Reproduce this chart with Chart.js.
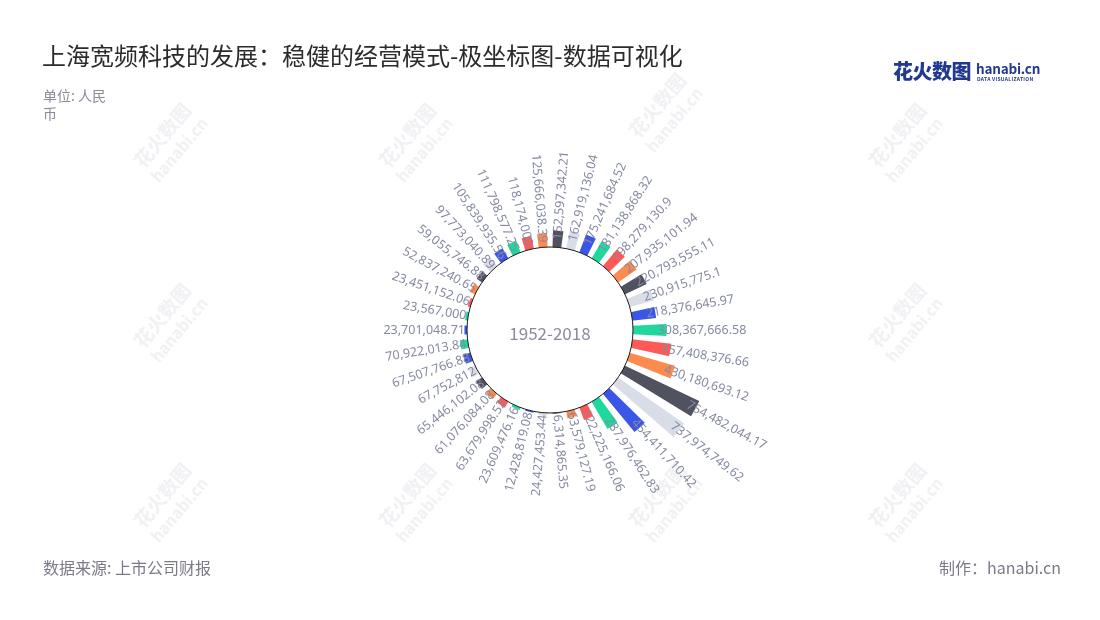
<!DOCTYPE html>
<html>
<head>
<meta charset="utf-8">
<script src="https://cdn.jsdelivr.net/npm/chart.js@4.4.1/dist/chart.umd.min.js"></script>
<style>
html,body{margin:0;padding:0;background:#fff;}
#wrap{position:relative;width:1100px;height:620px;overflow:hidden;font-family:"Noto Sans CJK SC","Noto Sans",sans-serif;}
#c{position:absolute;left:0;top:0;}
.t{position:absolute;white-space:nowrap;}
#title{left:42px;top:41px;font-size:24px;line-height:28px;color:#2b2b2b;}
#unit{left:43px;top:86px;font-size:14px;line-height:18px;color:#8a8a99;width:68px;white-space:normal;}
#source{left:43px;top:555px;font-size:16px;line-height:24px;color:#7a7a88;}
#credit{right:39px;top:555px;font-size:16px;line-height:24px;color:#7a7a88;}
#center{left:450px;top:320px;width:200px;text-align:center;font-size:17px;line-height:26px;color:#8a8aa0;}
#logo1{left:893px;top:58px;font-size:20px;line-height:26px;font-weight:900;color:#22398f;letter-spacing:-0.5px;}
#logo2{left:976px;top:59px;font-size:13.5px;line-height:18px;font-weight:700;color:#22398f;letter-spacing:-0.2px;}
#logo3{left:977px;top:76px;font-size:5px;line-height:6px;font-weight:700;color:#22398f;letter-spacing:0.3px;}
.wm{position:absolute;width:120px;text-align:center;color:#f1f1f4;font-size:19px;line-height:22px;font-weight:700;transform:rotate(-50deg);}
.wm span{display:block;font-size:16px;}
</style>
</head>
<body>
<div id="wrap">
  <div class="wm" style="left:110px;top:120px">花火数图<span>hanabi.cn</span></div>
  <div class="wm" style="left:355px;top:120px">花火数图<span>hanabi.cn</span></div>
  <div class="wm" style="left:605px;top:90px">花火数图<span>hanabi.cn</span></div>
  <div class="wm" style="left:845px;top:120px">花火数图<span>hanabi.cn</span></div>
  <div class="wm" style="left:110px;top:300px">花火数图<span>hanabi.cn</span></div>
  <div class="wm" style="left:845px;top:300px">花火数图<span>hanabi.cn</span></div>
  <div class="wm" style="left:110px;top:480px">花火数图<span>hanabi.cn</span></div>
  <div class="wm" style="left:355px;top:480px">花火数图<span>hanabi.cn</span></div>
  <div class="wm" style="left:605px;top:480px">花火数图<span>hanabi.cn</span></div>
  <div class="wm" style="left:845px;top:480px">花火数图<span>hanabi.cn</span></div>
  <canvas id="c" width="1100" height="620"></canvas>
  <div id="title" class="t">上海宽频科技的发展：稳健的经营模式-极坐标图-数据可视化</div>
  <div id="unit" class="t">单位: 人民币</div>
  <div id="source" class="t">数据来源: 上市公司财报</div>
  <div id="credit" class="t">制作：hanabi.cn</div>
  <div id="center" class="t">1952-2018</div>
  <div id="logo1" class="t">花火数图</div>
  <div id="logo2" class="t">hanabi.cn</div>
  <div id="logo3" class="t">DATA VISUALIZATION</div>
</div>
<script>
// ---- data (clockwise from 12 o'clock) ----
const values = [
  152597342.21, 162919136.04, 175241684.52, 181138868.32, 198279130.9, 207935101.94,
  220793555.11, 230915775.1, 218376645.97, 308367666.58, 357408376.66, 430180693.12,
  754482044.17, 737974749.62, 454411710.42, 287976462.83, 122225166.06, 63579127.19,
  6314865.35, 24427453.44, 12428819.08, 23609476.16, 63679998.52, 61076084.08,
  65446102.08, 67752812, 67507766.88, 70922013.84, 23701048.71, 23567000,
  23451152.06, 52837240.65, 59055746.88, 97773040.89, 105839935.56, 111798577.25,
  118174000, 125666038.39
];
const centerLabel = '1952-2018';

// ---- styles ----
const DG = '#50525f', LG = '#d9dde8', BL = '#3b56e6', GR = '#1ed89e', RD = '#fd5a57', OR = '#fd8a4e';
const BAR_COLORS = [
  DG, LG, BL, GR, RD, OR, DG, LG, BL, GR, RD, OR, DG, LG, BL, GR, RD, OR,
  DG, LG, BL, GR, RD, OR, DG, LG, BL, GR,
  BL, GR, RD, OR, DG, LG, BL, GR, RD, OR
];
const LABEL_COLOR = '#858aa0';
const BAND_DEG = 360 / values.length;
const BAR_DEG = 6.0;
const GAP_DEG = BAND_DEG - BAR_DEG;
const R_MIN = -761500000;
const R_MAX = 890000000;

function fmt(v) {
  const parts = String(v).split('.');
  parts[0] = parts[0].replace(/\B(?=(\d{3})+(?!\d))/g, ',');
  return parts.join('.');
}

const chartData = [], chartColors = [], chartLabels = [];
values.forEach((v, i) => {
  chartData.push(v, 0);
  chartColors.push(BAR_COLORS[i], 'rgba(0,0,0,0)');
  chartLabels.push(fmt(v), '');
});

const holePlugin = {
  id: 'holeAndLabels',
  afterDatasetsDraw(chart) {
    const ctx = chart.ctx;
    const scale = chart.scales.r;
    const cx = scale.xCenter, cy = scale.yCenter;
    const r0 = scale.getDistanceFromCenterForValue(0);
    ctx.save();
    ctx.beginPath();
    ctx.arc(cx, cy, r0, 0, Math.PI * 2);
    ctx.fillStyle = '#ffffff';
    ctx.fill();
    ctx.lineWidth = 1;
    ctx.strokeStyle = '#1a1a1a';
    ctx.stroke();

    const meta = chart.getDatasetMeta(0);
    ctx.font = '12.5px "Noto Sans", "Noto Sans CJK SC", sans-serif';
    ctx.fillStyle = LABEL_COLOR;
    ctx.textBaseline = 'middle';
    meta.data.forEach((arc, i) => {
      if (i % 2) return;
      const v = values[i / 2];
      const a = (arc.startAngle + arc.endAngle) / 2;
      const r = Math.max(arc.outerRadius - 9, r0 + 2);
      const right = Math.cos(a) >= 0;
      ctx.save();
      ctx.translate(cx, cy);
      ctx.rotate(right ? a : a + Math.PI);
      ctx.textAlign = right ? 'left' : 'right';
      ctx.fillText(fmt(v), right ? r : -r, 0);
      ctx.restore();
    });
    ctx.restore();
  }
};

new Chart(document.getElementById('c'), {
  type: 'polarArea',
  data: {
    labels: chartLabels,
    datasets: [{
      data: chartData,
      backgroundColor: chartColors,
      borderWidth: 0,
      angle: (c) => (c.dataIndex % 2 === 0 ? BAR_DEG : GAP_DEG)
    }]
  },
  options: {
    responsive: false,
    animation: false,
    layout: { padding: { top: 150, bottom: 110, left: 0, right: 0 } },
    plugins: { legend: { display: false }, tooltip: { enabled: false } },
    scales: {
      r: { display: false, min: R_MIN, max: R_MAX, startAngle: GAP_DEG / 2 }
    }
  },
  plugins: [holePlugin]
});
document.getElementById('center').textContent = centerLabel;
</script>
</body>
</html>
